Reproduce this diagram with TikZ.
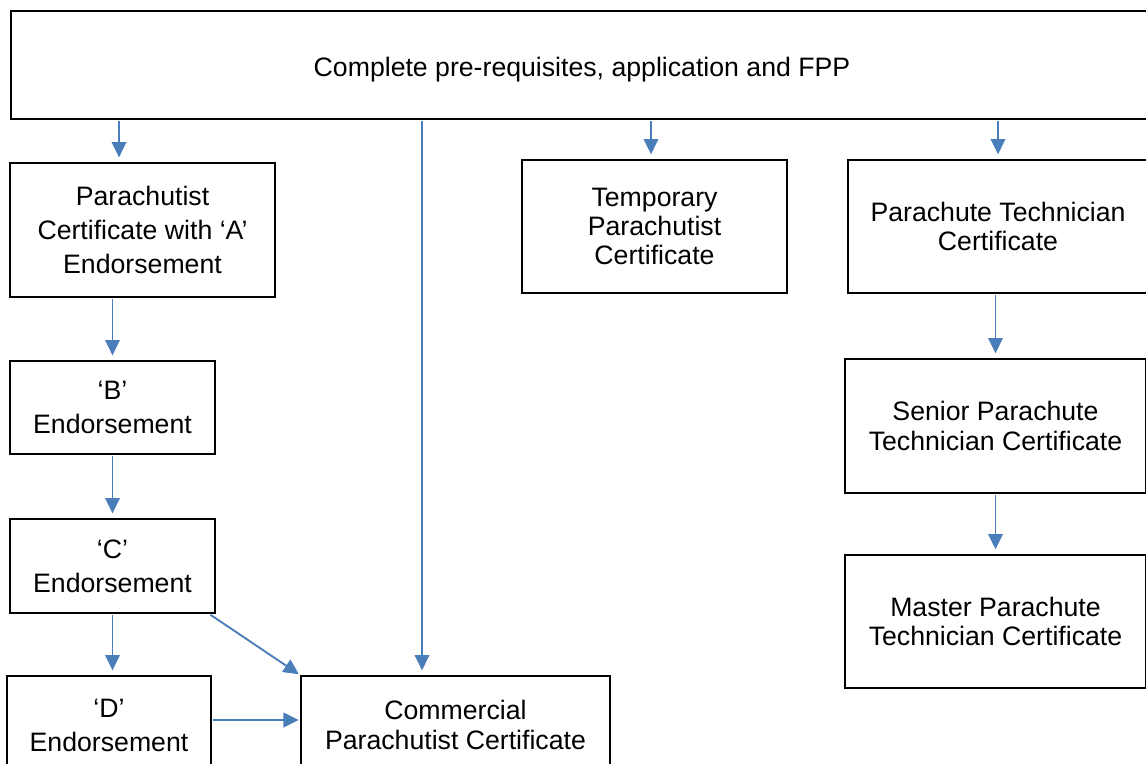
\documentclass[tikz,border=0pt]{standalone}
\usepackage{fontspec}
\setmainfont{Liberation Sans}
\usetikzlibrary{arrows.meta}

\definecolor{arrowblue}{RGB}{74,126,187}

\tikzset{every picture/.style={line width=0.75pt}}
\tikzset{
  certbox/.style={draw=black, line width=1.5pt, rectangle, inner sep=0pt, align=center,
    font=\fontsize{20}{22}\selectfont},
  endobox/.style={certbox, font=\fontsize{20}{25.5}\selectfont},
  arr/.style={draw=arrowblue, line width=1.4pt, -{Triangle[length=11.5pt,width=11pt]},
    shorten >=3.5pt, shorten <=1pt}
}

\begin{document}
\begin{tikzpicture}[x=0.75pt,y=0.75pt,yscale=-1,xscale=1]
\useasboundingbox (0,0) rectangle (1146,764);
\clip (0,0) rectangle (1146,764);

%Flowchart: Process
\node [certbox, text height=17.5pt, text depth=0pt, minimum width=856.5pt, minimum height=81pt] (prereq) at (582,65) {Complete pre-requisites, application and FPP};
%Flowchart: Process
\node [endobox, minimum width=198.75pt, minimum height=100.5pt] (certA) at (142.5,230) {Parachutist\\Certificate with ‘A’\\Endorsement};
%Flowchart: Process
\node [endobox, minimum width=153.75pt, minimum height=69.75pt] (endoB) at (112.5,407.5) {‘B’\\Endorsement};
%Flowchart: Process
\node [endobox, minimum width=153.75pt, minimum height=70.5pt] (endoC) at (112.5,566) {‘C’\\Endorsement};
%Flowchart: Process
\node [endobox, minimum width=153pt, minimum height=73.5pt] (endoD) at (109,725) {‘D’\\Endorsement};
%Flowchart: Process
\node [certbox, font=\fontsize{20}{23}\selectfont, minimum width=231.75pt, minimum height=73.5pt] (commercial) at (455.5,725) {Commercial\\Parachutist Certificate};
%Flowchart: Process
\node [certbox, minimum width=198.75pt, minimum height=99.75pt] (temporary) at (654.5,226.5) {Temporary\\Parachutist\\Certificate};
%Flowchart: Process
\node [certbox, minimum width=225pt, minimum height=99.75pt] (technician) at (998,226.5) {Parachute Technician\\Certificate};
%Flowchart: Process
\node [certbox, minimum width=225.75pt, minimum height=100.5pt] (senior) at (995.5,426) {Senior Parachute\\Technician Certificate};
%Flowchart: Process
\node [certbox, minimum width=225.75pt, minimum height=99.75pt] (master) at (995.5,621.5) {Master Parachute\\Technician Certificate};

% Connector x / y positions
\coordinate (xA) at (119,0);
\coordinate (xC) at (422,0);
\coordinate (xT) at (651,0);
\coordinate (yD) at (0,720);

%Straight Lines
\draw [arr] (prereq.south -| xA) -- (certA.north -| xA);
\draw [arr] (prereq.south -| xC) -- (commercial.north -| xC);
\draw [arr] (prereq.south -| xT) -- (temporary.north -| xT);
\draw [arr] (prereq.south -| technician.north) -- (technician.north);
\draw [arr] (certA.south -| endoB.north) -- (endoB.north);
\draw [arr] (endoB.south) -- (endoC.north);
\draw [arr] (endoC.south) -- (endoC.south |- endoD.north);
\draw [arr, shorten >=1pt] ([xshift=-5pt]endoC.south east) -- (commercial.north west);
\draw [arr, shorten >=1pt] (endoD.east |- yD) -- (commercial.west |- yD);
\draw [arr] (technician.south -| senior.north) -- (senior.north);
\draw [arr] (senior.south) -- (master.north);

\end{tikzpicture}
\end{document}
